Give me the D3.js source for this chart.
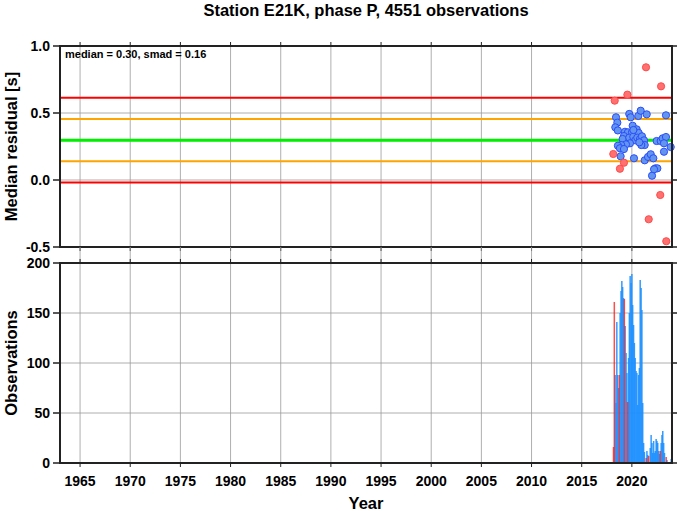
<!DOCTYPE html>
<html>
<head>
<meta charset="utf-8">
<script src="https://cdn.jsdelivr.net/npm/d3@7"></script>
<style>
  html, body { margin: 0; padding: 0; background: #fff; }
  svg { display: block; font-family: "Liberation Sans", Arial, Helvetica, sans-serif; }
</style>
</head>
<body>
<svg id="chart" width="678" height="511"></svg>
<script>
// ---------------- DATA ----------------
const title = "Station E21K, phase P, 4551 observations";
const statsLabel = "median = 0.30, smad = 0.16";
const median = 0.297;
const smad = 0.158;

const yearTicks = [1965, 1970, 1975, 1980, 1985, 1990, 1995, 2000, 2005, 2010, 2015, 2020];
const residTicks = [-0.5, 0.0, 0.5, 1.0];
const residLabels = ["-0.5", "0.0", "0.5", "1.0"];
const obsTicks = [0, 50, 100, 150, 200];

// monthly median residuals (normal months)
const blueYears = [2018.42, 2018.55, 2018.35, 2018.60, 2019.74, 2019.88, 2020.64, 2020.88, 2021.48, 2023.40,
  2020.08, 2020.48, 2019.31, 2019.61, 2020.01, 2020.68, 2019.21, 2019.08, 2019.74, 2020.14,
  2020.34, 2020.54, 2020.81, 2021.01, 2021.21, 2021.28, 2020.94, 2020.74, 2019.81, 2019.41,
  2018.94, 2018.61, 2018.81, 2019.21, 2022.47, 2022.87, 2023.07, 2023.40, 2023.20, 2023.87,
  2023.20, 2018.88, 2020.21, 2021.28, 2021.61, 2021.88, 2022.14, 2022.34, 2022.54, 2022.01,
  2020.15, 2022.21];
const blueValues = [0.468, 0.428, 0.393, 0.370, 0.493, 0.468, 0.478, 0.517, 0.490, 0.483,
  0.405, 0.378, 0.360, 0.356, 0.356, 0.351, 0.328, 0.306, 0.316, 0.323,
  0.296, 0.316, 0.306, 0.326, 0.296, 0.261, 0.261, 0.281, 0.274, 0.266,
  0.261, 0.256, 0.237, 0.231, 0.291, 0.291, 0.311, 0.321, 0.274, 0.246,
  0.211, 0.177, 0.162, 0.147, 0.172, 0.192, 0.162, 0.087, 0.087, 0.032,
  0.373, 0.080];

// flagged months
const redYears = [2021.41, 2022.91, 2019.55, 2018.29, 2018.15, 2019.21, 2018.81, 2022.83, 2021.68, 2023.43];
const redValues = [0.841, 0.699, 0.637, 0.592, 0.194, 0.129, 0.084, -0.112, -0.293, -0.457];

// monthly observation counts
const barYears = [2018.33, 2018.42, 2018.50, 2018.58, 2018.67, 2018.83, 2018.92, 2019.00, 2019.08, 2019.17,
  2019.33, 2019.42, 2019.50, 2019.67, 2019.75, 2019.83, 2019.92, 2020.00, 2020.08, 2020.17,
  2020.25, 2020.33, 2020.42, 2020.50, 2020.58, 2020.67, 2020.75, 2020.83, 2020.92, 2021.00,
  2021.08, 2021.17, 2021.25, 2021.50, 2021.58, 2021.83, 2021.92, 2022.00, 2022.08, 2022.17,
  2022.25, 2022.33, 2022.42, 2022.50, 2022.58, 2022.67, 2022.75, 2022.92, 2023.00, 2023.08,
  2023.17, 2023.25, 2023.50, 2023.92];
const barCounts = [88, 60, 141, 88, 75, 150, 172, 182, 176, 165,
  137, 110, 90, 105, 150, 187, 180, 189, 158, 138,
  120, 105, 92, 90, 58, 88, 95, 183, 175, 153,
  60, 20, 11, 12, 8, 15, 28, 20, 10, 22,
  10, 12, 24, 22, 20, 12, 9, 20, 28, 32,
  20, 10, 3, 4];
const redBarYears = [2018.17, 2018.25, 2018.75, 2019.25, 2019.58, 2021.42, 2021.67, 2022.83, 2023.42];
const redBarCounts = [16, 161, 88, 164, 61, 5, 7, 12, 6];

// ---------------- LAYOUT ----------------
const svg = d3.select("#chart");
const x = d3.scaleLinear().domain([1963, 2024]).range([60, 672]);
const yTop = d3.scaleLinear().domain([-0.5, 1.0]).range([247, 46]);
const yBot = d3.scaleLinear().domain([0, 200]).range([463, 263]);
const gridColor = "#9a9a9a";
const frameColor = "#222";

function panel(y, yTicks) {
  const g = svg.append("g");
  const [y0, y1] = y.range();
  g.selectAll(".vg").data(yearTicks).join("line")
    .attr("x1", d => x(d)).attr("x2", d => x(d))
    .attr("y1", y1).attr("y2", y0)
    .attr("stroke", gridColor).attr("stroke-width", 0.8);
  g.selectAll(".hg").data(yTicks.slice(1, -1)).join("line")
    .attr("x1", x.range()[0]).attr("x2", x.range()[1])
    .attr("y1", d => y(d)).attr("y2", d => y(d))
    .attr("stroke", gridColor).attr("stroke-width", 0.8);
  return g;
}

function frame(y, yTicks, labels) {
  const g = svg.append("g");
  const [y0, y1] = y.range();
  const [xa, xb] = x.range();
  g.selectAll(".lt").data(yTicks).join("line")
    .attr("x1", xa - 7).attr("x2", xa).attr("y1", d => y(d)).attr("y2", d => y(d))
    .attr("stroke", frameColor).attr("stroke-width", 1.5);
  g.selectAll(".rt").data(yTicks).join("line")
    .attr("x1", xb).attr("x2", xb + 5).attr("y1", d => y(d)).attr("y2", d => y(d))
    .attr("stroke", frameColor).attr("stroke-width", 1.5);
  g.selectAll(".tt").data(yearTicks).join("line")
    .attr("x1", d => x(d)).attr("x2", d => x(d)).attr("y1", y1 - 4).attr("y2", y1)
    .attr("stroke", frameColor).attr("stroke-width", 1);
  g.selectAll(".bt").data(yearTicks).join("line")
    .attr("x1", d => x(d)).attr("x2", d => x(d)).attr("y1", y0).attr("y2", y0 + 4)
    .attr("stroke", frameColor).attr("stroke-width", 1);
  g.selectAll(".yl").data(yTicks).join("text")
    .attr("x", xa - 10).attr("y", d => y(d)).attr("dy", "0.36em")
    .attr("text-anchor", "end").attr("font-size", 14).attr("font-weight", "bold")
    .text((d, i) => labels[i]);
  g.append("rect").attr("x", xa).attr("y", y1).attr("width", xb - xa).attr("height", y0 - y1)
    .attr("fill", "none").attr("stroke", frameColor).attr("stroke-width", 2);
  return g;
}

// ---------- top panel ----------
panel(yTop, residTicks);
const lines = [
  {v: median + 2 * smad, c: "#ff0000", w: 2},
  {v: median + smad, c: "#ffa500", w: 2},
  {v: median, c: "#00ee00", w: 3},
  {v: median - smad, c: "#ffa500", w: 2},
  {v: median - 2 * smad, c: "#ff0000", w: 2}
];
svg.append("g").selectAll("line").data(lines).join("line")
  .attr("x1", x.range()[0]).attr("x2", x.range()[1])
  .attr("y1", d => yTop(d.v)).attr("y2", d => yTop(d.v))
  .attr("stroke", d => d.c).attr("stroke-width", d => d.w);

svg.append("g").selectAll("circle").data(blueYears.map((d, i) => [d, blueValues[i]])).join("circle")
  .attr("cx", d => x(d[0])).attr("cy", d => yTop(d[1])).attr("r", 3.6)
  .attr("fill", "#6495ed").attr("stroke", "#2a4dff").attr("stroke-width", 1);
svg.append("g").selectAll("circle").data(redYears.map((d, i) => [d, redValues[i]])).join("circle")
  .attr("cx", d => x(d[0])).attr("cy", d => yTop(d[1])).attr("r", 3.6)
  .attr("fill", "#ff7070").attr("stroke", "#ff4a4a").attr("stroke-width", 1);

svg.append("text").attr("x", 65).attr("y", 58)
  .attr("font-size", 11).attr("font-weight", "bold").text(statsLabel);

frame(yTop, residTicks, residLabels);

// connectors between panels
svg.append("g").selectAll("line").data(yearTicks).join("line")
  .attr("x1", d => x(d)).attr("x2", d => x(d)).attr("y1", 247).attr("y2", 263)
  .attr("stroke", gridColor).attr("stroke-width", 0.8);

// ---------- bottom panel ----------
panel(yBot, obsTicks);
const bw = 1.5;
svg.append("g").selectAll("rect").data(barYears.map((d, i) => [d, barCounts[i]])).join("rect")
  .attr("x", d => x(d[0]) - bw / 2).attr("width", bw)
  .attr("y", d => yBot(d[1])).attr("height", d => yBot(0) - yBot(d[1]))
  .attr("fill", "#1e90ff").attr("opacity", 0.9);
svg.append("g").selectAll("rect").data(redBarYears.map((d, i) => [d, redBarCounts[i]])).join("rect")
  .attr("x", d => x(d[0]) - bw / 2).attr("width", bw)
  .attr("y", d => yBot(d[1])).attr("height", d => yBot(0) - yBot(d[1]))
  .attr("fill", "#ff2020").attr("opacity", 0.8);

frame(yBot, obsTicks, obsTicks.map(String));

// x labels
svg.append("g").selectAll("text").data(yearTicks).join("text")
  .attr("x", d => x(d)).attr("y", 486)
  .attr("text-anchor", "middle").attr("font-size", 14).attr("font-weight", "bold")
  .text(d => d);

// titles
svg.append("text").attr("x", 366).attr("y", 16).attr("text-anchor", "middle")
  .attr("font-size", 16.5).attr("font-weight", "bold").text(title);
svg.append("text").attr("x", 366).attr("y", 509).attr("text-anchor", "middle")
  .attr("font-size", 16.5).attr("font-weight", "bold").text("Year");
svg.append("text").attr("transform", "translate(17," + ((46 + 247) / 2) + ") rotate(-90)")
  .attr("text-anchor", "middle").attr("font-size", 16.5).attr("font-weight", "bold")
  .text("Median residual [s]");
svg.append("text").attr("transform", "translate(17," + ((263 + 463) / 2) + ") rotate(-90)")
  .attr("text-anchor", "middle").attr("font-size", 16.5).attr("font-weight", "bold")
  .text("Observations");
</script>
</body>
</html>
